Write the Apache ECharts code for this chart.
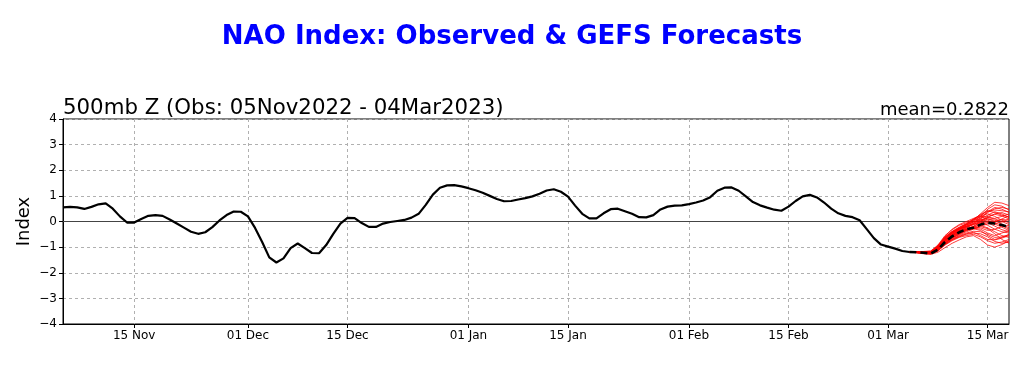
<!DOCTYPE html>
<html>
<head>
<meta charset="utf-8">
<script src="https://cdn.jsdelivr.net/npm/echarts@6/dist/echarts.min.js"></script>
<style>
html,body{margin:0;padding:0;background:#fff;}
#chart{width:1024px;height:366px;}
</style>
</head>
<body>
<div id="chart"></div>
<script>
// ---- Data ----
const startDate = [2022, 10, 5];   // 05 Nov 2022 (month 0-based)
const numDays = 134;               // 05 Nov 2022 .. 18 Mar 2023
const tickLabels = ["15 Nov","01 Dec","15 Dec","01 Jan","15 Jan","01 Feb","15 Feb","01 Mar","15 Mar"];
const monthNames = ["Jan","Feb","Mar","Apr","May","Jun","Jul","Aug","Sep","Oct","Nov","Dec"];

// Observed NAO index, 05 Nov 2022 .. 04 Mar 2023
const observed = [
 0.55, 0.57, 0.55, 0.49, 0.57, 0.67, 0.71, 0.50, 0.20,-0.04,
-0.04, 0.10, 0.22, 0.25, 0.22, 0.08,-0.08,-0.24,-0.40,-0.48,
-0.42,-0.22, 0.04, 0.25, 0.39, 0.38, 0.20,-0.25,-0.80,-1.40,
-1.60,-1.44,-1.04,-0.86,-1.04,-1.23,-1.24,-0.92,-0.48,-0.08,
 0.14, 0.13,-0.06,-0.21,-0.21,-0.08,-0.02, 0.02, 0.06, 0.15,
 0.30, 0.65, 1.05, 1.32, 1.41, 1.42, 1.37, 1.30, 1.22, 1.12,
 1.00, 0.88, 0.79, 0.80, 0.86, 0.91, 0.98, 1.08, 1.21, 1.26,
 1.16, 0.97, 0.62, 0.30, 0.12, 0.12, 0.32, 0.48, 0.50, 0.40,
 0.30, 0.17, 0.16, 0.25, 0.47, 0.58, 0.62, 0.63, 0.68, 0.74,
 0.82, 0.95, 1.20, 1.32, 1.33, 1.20, 0.98, 0.76, 0.63, 0.54,
 0.46, 0.42, 0.58, 0.80, 0.98, 1.04, 0.94, 0.74, 0.50, 0.32,
 0.22, 0.17, 0.05,-0.30,-0.65,-0.90,-0.98,-1.06,-1.15,-1.19
];

// GEFS ensemble mean, 04 Mar .. 18 Mar 2023
const forecastMean = [-1.19,-1.20,-1.22,-1.25,-1.10,-0.80,-0.58,-0.42,-0.30,-0.24,-0.12,-0.05,-0.08,-0.14,-0.22];

// GEFS ensemble members, 04 Mar .. 18 Mar 2023
const m01 = [-1.19,-1.20,-1.22,-1.20,-1.00,-0.70,-0.45,-0.30,-0.15, 0.05, 0.30, 0.55, 0.75, 0.72, 0.62];
const m02 = [-1.19,-1.19,-1.20,-1.18,-0.95,-0.62,-0.40,-0.25,-0.10, 0.10, 0.25, 0.40, 0.45, 0.42, 0.38];
const m03 = [-1.19,-1.21,-1.24,-1.26,-1.15,-0.92,-0.75,-0.62,-0.55,-0.50,-0.60,-0.75,-0.85,-0.80,-0.70];
const m04 = [-1.19,-1.20,-1.21,-1.22,-1.05,-0.78,-0.55,-0.40,-0.30,-0.18,-0.05, 0.10, 0.05,-0.10,-0.25];
const m05 = [-1.19,-1.18,-1.17,-1.15,-0.92,-0.55,-0.32,-0.15,-0.05, 0.08, 0.20, 0.18, 0.12, 0.20, 0.30];
const m06 = [-1.19,-1.22,-1.26,-1.28,-1.20,-1.02,-0.85,-0.72,-0.60,-0.55,-0.70,-0.92,-1.00,-0.90,-0.75];
const m07 = [-1.19,-1.20,-1.23,-1.24,-1.08,-0.85,-0.65,-0.50,-0.35,-0.20, 0.00, 0.15, 0.30, 0.35, 0.25];
const m08 = [-1.19,-1.19,-1.21,-1.21,-1.02,-0.72,-0.50,-0.38,-0.28,-0.20,-0.15,-0.25,-0.40,-0.55,-0.62];
const m09 = [-1.19,-1.21,-1.22,-1.23,-1.10,-0.80,-0.58,-0.42,-0.25,-0.08, 0.12, 0.35, 0.50, 0.55, 0.48];
const m10 = [-1.19,-1.20,-1.19,-1.17,-0.98,-0.65,-0.42,-0.28,-0.20,-0.12,-0.05,-0.02,-0.10,-0.22,-0.35];
const m11 = [-1.19,-1.20,-1.22,-1.25,-1.12,-0.88,-0.70,-0.55,-0.45,-0.38,-0.40,-0.50,-0.62,-0.60,-0.52];
const m12 = [-1.19,-1.18,-1.18,-1.16,-0.95,-0.58,-0.30,-0.12, 0.00, 0.12, 0.22, 0.30, 0.20, 0.05,-0.05];
const m13 = [-1.19,-1.21,-1.23,-1.22,-1.05,-0.75,-0.52,-0.35,-0.22,-0.10,-0.02,-0.15,-0.30,-0.40,-0.45];
const m14 = [-1.19,-1.19,-1.20,-1.19,-1.00,-0.68,-0.48,-0.32,-0.18, 0.00, 0.20, 0.48, 0.65, 0.60, 0.45];
const m15 = [-1.19,-1.22,-1.25,-1.27,-1.14,-0.90,-0.70,-0.58,-0.48,-0.42,-0.55,-0.70,-0.72,-0.65,-0.55];
const m16 = [-1.19,-1.20,-1.21,-1.20,-1.02,-0.70,-0.46,-0.30,-0.18,-0.08, 0.05, 0.00,-0.08,-0.02, 0.10];
const m17 = [-1.19,-1.20,-1.22,-1.23,-1.06,-0.82,-0.60,-0.45,-0.32,-0.22,-0.25,-0.35,-0.30,-0.20,-0.15];
const m18 = [-1.19,-1.18,-1.19,-1.18,-0.97,-0.60,-0.38,-0.22,-0.08, 0.05, 0.10, 0.25, 0.38, 0.30, 0.15];
const m19 = [-1.19,-1.21,-1.24,-1.25,-1.12,-0.86,-0.66,-0.52,-0.40,-0.30,-0.20,-0.28,-0.48,-0.70,-0.85];
const m20 = [-1.19,-1.20,-1.21,-1.21,-1.03,-0.74,-0.52,-0.36,-0.24,-0.12, 0.02, 0.20, 0.28, 0.22, 0.10];
const m21 = [-1.19,-1.19,-1.20,-1.19,-0.99,-0.66,-0.44,-0.28,-0.14,-0.02, 0.08, 0.05,-0.05,-0.15,-0.30];
const m22 = [-1.19,-1.21,-1.23,-1.24,-1.09,-0.84,-0.62,-0.46,-0.34,-0.26,-0.30,-0.45,-0.55,-0.45,-0.35];
const m23 = [-1.19,-1.20,-1.21,-1.20,-1.01,-0.70,-0.45,-0.28,-0.12, 0.05, 0.18, 0.10, 0.00, 0.10, 0.22];
const m24 = [-1.19,-1.20,-1.22,-1.22,-1.04,-0.76,-0.56,-0.40,-0.30,-0.22,-0.12,-0.05,-0.18,-0.32,-0.40];
const m25 = [-1.19,-1.21,-1.22,-1.21,-1.04,-0.72,-0.50,-0.33,-0.20,-0.05, 0.15, 0.38, 0.55, 0.48, 0.35];
const m26 = [-1.19,-1.20,-1.23,-1.25,-1.13,-0.90,-0.72,-0.60,-0.50,-0.45,-0.48,-0.60,-0.78,-0.85,-0.80];
const m27 = [-1.19,-1.19,-1.19,-1.18,-0.96,-0.62,-0.40,-0.24,-0.12,-0.02, 0.05, 0.15, 0.10, 0.00,-0.12];
const m28 = [-1.19,-1.20,-1.21,-1.22,-1.06,-0.78,-0.56,-0.42,-0.32,-0.25,-0.18,-0.10, 0.00, 0.08, 0.05];
const m29 = [-1.19,-1.21,-1.24,-1.24,-1.10,-0.84,-0.64,-0.48,-0.36,-0.28,-0.35,-0.55,-0.70,-0.62,-0.50];
const m30 = [-1.19,-1.19,-1.20,-1.18,-0.98,-0.64,-0.42,-0.26,-0.10, 0.08, 0.28, 0.42, 0.35, 0.25, 0.18];
const members = [m01,m02,m03,m04,m05,m06,m07,m08,m09,m10,m11,m12,m13,m14,m15,m16,m17,m18,m19,m20,m21,m22,m23,m24,m25,m26,m27,m28,m29,m30];

const forecastStart = observed.length - 1; // forecasts begin at last observed day

// ---- Build categories ----
const categories = [];
for (let i = 0; i < numDays; i++) {
  const d = new Date(Date.UTC(startDate[0], startDate[1], startDate[2] + i));
  const dd = String(d.getUTCDate()).padStart(2, '0');
  categories.push(dd + ' ' + monthNames[d.getUTCMonth()]);
}
const isTick = (idx, val) => tickLabels.indexOf(categories[idx]) >= 0;

const pad = n => Array(n).fill('-');
const FONT = "'DejaVu Sans', sans-serif";

const series = [];
members.forEach((m, k) => {
  series.push({
    name: 'member' + (k + 1),
    type: 'line',
    data: pad(forecastStart).concat(m),
    symbol: 'none',
    silent: true,
    lineStyle: { color: '#ff0000', width: 0.9, opacity: 0.85 },
    z: 3
  });
});
series.push({
  name: 'Observed',
  type: 'line',
  data: observed,
  symbol: 'none',
  silent: true,
  lineStyle: { color: '#000000', width: 2.2 },
  z: 4,
  markLine: {
    silent: true,
    symbol: 'none',
    label: { show: false },
    lineStyle: { color: '#444444', width: 1, type: 'solid' },
    data: [{ yAxis: 0 }],
    z: 2
  }
});
series.push({
  name: 'GEFS mean',
  type: 'line',
  data: pad(forecastStart).concat(forecastMean),
  symbol: 'none',
  silent: true,
  lineStyle: { color: '#000000', width: 2.6, type: [7, 4] },
  z: 5
});

const chart = echarts.init(document.getElementById('chart'), null, { renderer: 'canvas' });
chart.setOption({
  animation: false,
  backgroundColor: '#ffffff',
  title: [
    { text: 'NAO Index: Observed & GEFS Forecasts', left: 'center', top: 19,
      textStyle: { color: '#0000ff', fontSize: 26, fontWeight: 'bold', fontFamily: FONT } },
    { text: '500mb Z (Obs: 05Nov2022 - 04Mar2023)', left: 58, top: 93,
      textStyle: { color: '#000', fontSize: 21.3, fontWeight: 'normal', fontFamily: FONT } },
    { text: 'mean=0.2822', right: 10, top: 96,
      textStyle: { color: '#000', fontSize: 18, fontWeight: 'normal', fontFamily: FONT } }
  ],
  grid: { left: 63, right: 15, top: 119, bottom: 42, show: true, borderColor: '#000', borderWidth: 1, backgroundColor: 'transparent' },
  xAxis: {
    type: 'category',
    data: categories,
    boundaryGap: false,
    axisLine: { show: true, onZero: false, lineStyle: { color: '#000', width: 1 } },
    axisTick: { show: true, interval: isTick, length: 4, lineStyle: { color: '#000' } },
    axisLabel: { interval: isTick, color: '#000', fontSize: 12, fontFamily: FONT, margin: 6 },
    splitLine: { show: true, interval: isTick, lineStyle: { color: '#b0b0b0', type: [3, 3], width: 1 } }
  },
  yAxis: {
    type: 'value',
    min: -4, max: 4, interval: 1,
    name: 'Index',
    nameLocation: 'middle',
    nameGap: 30,
    nameMoveOverlap: false,
    nameTextStyle: { color: '#000', fontSize: 18, fontFamily: FONT },
    axisLine: { show: true, lineStyle: { color: '#000' } },
    axisTick: { show: true, length: 4, lineStyle: { color: '#000' } },
    axisLabel: { color: '#000', fontSize: 12, fontFamily: FONT, margin: 6,
      formatter: v => (v < 0 ? '\u2212' + Math.abs(v) : String(v)) },
    splitLine: { show: true, lineStyle: { color: '#b0b0b0', type: [3, 3], width: 1 } }
  },
  series: series
});
</script>
</body>
</html>
